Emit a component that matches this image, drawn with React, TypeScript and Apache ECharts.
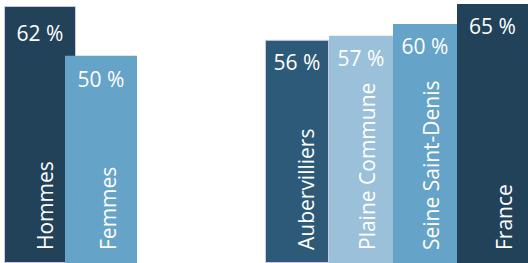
import React, { useEffect, useRef } from 'react';
import * as echarts from 'echarts';

// Data
const genderCategories = ['Hommes', 'Femmes'];
const genderValues = [62, 50];
const areaCategories = ['Aubervilliers', 'Plaine Commune', 'Seine Saint-Denis', 'France'];
const areaValues = [56, 57, 60, 65];

// Styles
const genderColors = ['#22425A', '#66A3C8'];
const areaColors = ['#2D5A78', '#9BC0DA', '#66A3C8', '#22425A'];
const genderWidths = [72, 72];
const areaWidths = [64, 64, 64, 71];
const genderNameShift = [5, 7];
const areaNameShift = [9, 6, 6, 11];
const genderValueShift = [4, 1];
const areaValueShift = [0, 0, 0, 0];
const FONT = 'Open Sans';
const BORDER = '#C9C7E6';

interface Group {
  cats: string[];
  vals: number[];
  colors: string[];
  widths: number[];
  nameShift: number[];
  valueShift: number[];
  gap: string;
  left: number;
  width: number;
  max: number;
}

const groups: Group[] = [
  { cats: genderCategories, vals: genderValues, colors: genderColors, widths: genderWidths, nameShift: genderNameShift, valueShift: genderValueShift, gap: '-15.28%', left: 4, width: 133, max: 63.45 },
  { cats: areaCategories, vals: areaValues, colors: areaColors, widths: areaWidths, nameShift: areaNameShift, valueShift: areaValueShift, gap: '0%', left: 265, width: 263, max: 66 },
];

export default function App() {
  const ref = useRef<HTMLDivElement>(null);
  useEffect(() => {
    if (!ref.current) return;
    const chart = echarts.init(ref.current, undefined, { renderer: 'svg' });
    const grid: any[] = [];
    const xAxis: any[] = [];
    const yAxis: any[] = [];
    const series: any[] = [];
    groups.forEach((g, gi) => {
      for (let layer = 0; layer < 2; layer++) {
        const idx = gi * 2 + layer;
        grid.push({ left: g.left, width: g.width, top: 0, height: 264 });
        xAxis.push({ type: 'category', gridIndex: idx, data: [''], show: false, boundaryGap: true });
        yAxis.push({ type: 'value', gridIndex: idx, min: 0, max: g.max, show: false, splitLine: { show: false } });
        g.cats.forEach((cat, i) => {
          const visible = layer === 0;
          series.push({
            type: 'bar',
            name: cat,
            xAxisIndex: idx,
            yAxisIndex: idx,
            data: [g.vals[i]],
            barWidth: g.widths[i],
            barGap: g.gap,
            z: visible ? 2 : 5,
            itemStyle: visible
              ? {
                  color: g.colors[i],
                  borderColor: i === 0 ? BORDER : undefined,
                  borderWidth: i === 0 ? 1 : 0,
                }
              : { color: 'transparent' },
            label: visible
              ? {
                  show: true,
                  position: 'insideTop',
                  distance: 12,
                  offset: [0, g.valueShift[i]],
                  color: '#FFFFFF',
                  fontSize: 21,
                  fontFamily: FONT,
                  formatter: '{c} %',
                }
              : {
                  show: true,
                  position: 'insideBottom',
                  rotate: 90,
                  align: 'left',
                  verticalAlign: 'middle',
                  distance: 13,
                  offset: [0, g.nameShift[i]],
                  color: '#FFFFFF',
                  fontSize: 21,
                  fontFamily: FONT,
                  formatter: '{a}',
                },
          });
        });
      }
    });
    chart.setOption({ animation: false, grid, xAxis, yAxis, series, tooltip: { show: false } });
    return () => chart.dispose();
  }, []);
  return <div ref={ref} style={{ position: 'absolute', left: 0, top: 0, width: 528, height: 263, background: '#FFFFFF' }} />;
}
